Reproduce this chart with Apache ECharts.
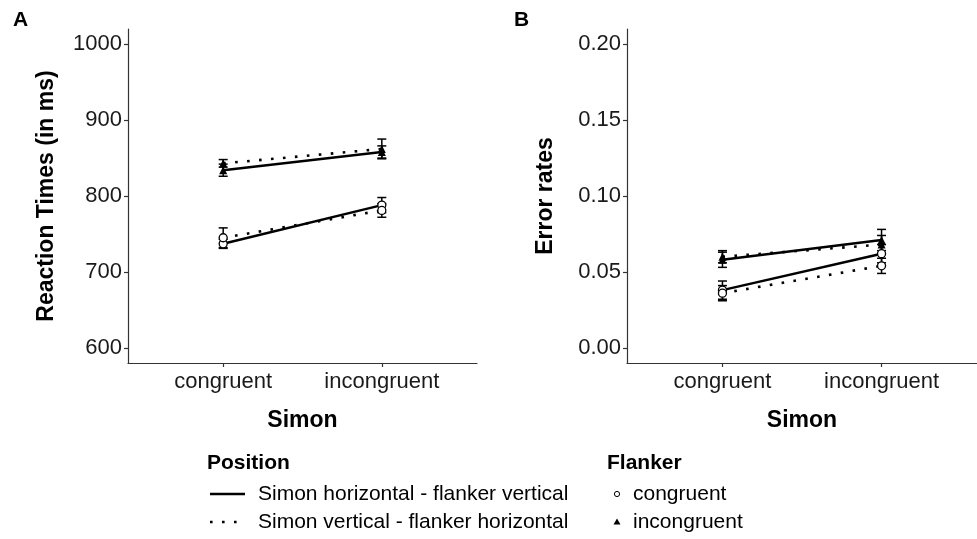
<!DOCTYPE html>
<html>
<head>
<meta charset="utf-8">
<script src="https://cdn.jsdelivr.net/npm/echarts@6/dist/echarts.min.js"></script>
<style>
  html, body { margin: 0; padding: 0; background: #fff; }
  #chart { width: 977px; height: 539px; }
</style>
</head>
<body>
<div id="chart"></div>
<script>
// Simon levels on x (positions 1 and 2)
const simonLevels = ['congruent', 'incongruent']
const simonPos = [1, 2]

// Reaction times (ms): means and SE per Simon level
const rtHorizCong = [737, 788]
const rtHorizCongSe = [6, 10]
const rtVertCong = [745, 781]
const rtVertCongSe = [13, 9]
const rtHorizIncong = [834, 858]
const rtHorizIncongSe = [8, 8]
const rtVertIncong = [843, 862]
const rtVertIncongSe = [5, 13]

// Error rates: means and SE per Simon level
const erHorizCong = [0.038, 0.062]
const erHorizCongSe = [0.006, 0.006]
const erVertCong = [0.036, 0.054]
const erVertCongSe = [0.005, 0.005]
const erHorizIncong = [0.058, 0.071]
const erHorizIncongSe = [0.005, 0.007]
const erVertIncong = [0.060, 0.068]
const erVertIncongSe = [0.004, 0.006]

// tick labels
const rtTicks = [600, 700, 800, 900, 1000]
const erTicks = [0, 0.05, 0.10, 0.15, 0.20]

const positionNames = ['Simon horizontal - flanker vertical', 'Simon vertical - flanker horizontal']
const flankerNames = ['congruent', 'incongruent']

const FONT = 'Liberation Sans'

const chart = echarts.init(document.getElementById('chart'))

const pts = (vals) => vals.map((v, i) => [simonPos[i], v])
const bars = (vals, se) => vals.map((v, i) => [simonPos[i], v - se[i], v + se[i]])

const solidLine = { color: '#000', width: 2.5, type: 'solid' }
const dotLine = { color: '#000', width: 2.6, type: [2.6, 9.4], cap: 'butt' }
const circleStyle = { color: '#fff', borderColor: '#000', borderWidth: 1.3 }
const triStyle = { color: '#000' }

const errorBars = (idx, list) => ({
  type: 'custom',
  xAxisIndex: idx,
  yAxisIndex: idx,
  silent: true,
  z: 3,
  data: list,
  renderItem: (params, api) => {
    const lo = api.coord([api.value(0), api.value(1)])
    const hi = api.coord([api.value(0), api.value(2)])
    const w = 4.5
    const style = { stroke: '#000', lineWidth: 1.5 }
    return {
      type: 'group',
      children: [
        { type: 'line', shape: { x1: lo[0], y1: lo[1], x2: hi[0], y2: hi[1] }, style },
        { type: 'line', shape: { x1: lo[0] - w, y1: lo[1], x2: lo[0] + w, y2: lo[1] }, style },
        { type: 'line', shape: { x1: hi[0] - w, y1: hi[1], x2: hi[0] + w, y2: hi[1] }, style }
      ]
    }
  }
})

const lineSeries = (idx, name, vals, dotted, tri) => ({
  type: 'line',
  name: name,
  xAxisIndex: idx,
  yAxisIndex: idx,
  data: pts(vals),
  symbol: tri ? 'triangle' : 'circle',
  symbolSize: 8,
  lineStyle: dotted ? dotLine : solidLine,
  itemStyle: tri ? triStyle : circleStyle,
  z: 4
})

const xAxisFor = (idx) => ({
  type: 'value',
  gridIndex: idx,
  min: 0.4,
  max: 2.6,
  name: 'Simon',
  nameLocation: 'middle',
  nameGap: 46,
  nameTextStyle: { fontFamily: FONT, fontSize: 23, fontWeight: 'bold', color: '#000' },
  axisLine: { onZero: false, lineStyle: { color: '#333', width: 1.2 } },
  axisTick: { customValues: simonPos, length: 4, lineStyle: { color: '#333', width: 1.2 } },
  axisLabel: {
    customValues: simonPos,
    margin: 8,
    fontFamily: FONT,
    fontSize: 22,
    color: '#1a1a1a',
    formatter: (v) => simonLevels[Math.round(v) - 1]
  },
  splitLine: { show: false }
})

const yAxisFor = (idx, name, min, max, ticks, fmt) => ({
  type: 'value',
  gridIndex: idx,
  min: min,
  max: max,
  name: name,
  nameLocation: 'middle',
  nameGap: 70,
  nameTextStyle: { fontFamily: FONT, fontSize: 23, fontWeight: 'bold', color: '#000' },
  axisLine: { show: true, onZero: false, lineStyle: { color: '#333', width: 1.2 } },
  axisTick: { show: true, customValues: ticks, length: 4, lineStyle: { color: '#333', width: 1.2 } },
  axisLabel: {
    customValues: ticks,
    margin: 6,
    fontFamily: FONT,
    fontSize: 22,
    color: '#1a1a1a',
    formatter: fmt
  },
  splitLine: { show: false }
})

// legend drawn by hand: title, key mark, label
const legendText = (x, y, text, bold) => ({
  type: 'text', x: x, y: y,
  style: { text: text, font: (bold ? 'bold ' : '') + '21px ' + FONT, fill: '#000', verticalAlign: 'middle' }
})

const option = {
  backgroundColor: '#fff',
  animation: false,
  grid: [
    { left: 128, top: 29, width: 349, height: 334 },
    { left: 627, top: 29, width: 350, height: 334 }
  ],
  xAxis: [xAxisFor(0), xAxisFor(1)],
  yAxis: [
    yAxisFor(0, 'Reaction Times (in ms)', 580, 1020, rtTicks, (v) => String(v)),
    yAxisFor(1, 'Error rates', -0.01, 0.21, erTicks, (v) => v.toFixed(2))
  ],
  graphic: [
    { type: 'text', x: 13, y: 20, style: { text: 'A', font: 'bold 21px ' + FONT, fill: '#000', verticalAlign: 'middle' } },
    { type: 'text', x: 514, y: 20, style: { text: 'B', font: 'bold 21px ' + FONT, fill: '#000', verticalAlign: 'middle' } },

    legendText(207, 463, 'Position', true),
    { type: 'line', shape: { x1: 210, y1: 494, x2: 245, y2: 494 }, style: { stroke: '#000', lineWidth: 2.5 } },
    legendText(258, 494, positionNames[0], false),
    { type: 'line', shape: { x1: 210, y1: 522, x2: 245, y2: 522 }, style: { stroke: '#000', lineWidth: 2.6, lineDash: [2.6, 9.4] } },
    legendText(258, 522, positionNames[1], false),

    legendText(607, 463, 'Flanker', true),
    { type: 'circle', shape: { cx: 617, cy: 494, r: 2.6 }, style: { fill: '#fff', stroke: '#000', lineWidth: 1 } },
    legendText(633, 494, flankerNames[0], false),
    { type: 'polygon', shape: { points: [[617, 518.5], [620.5, 524.5], [613.5, 524.5]] }, style: { fill: '#000' } },
    legendText(633, 522, flankerNames[1], false)
  ],
  series: [
    errorBars(0, bars(rtHorizCong, rtHorizCongSe)),
    errorBars(0, bars(rtVertCong, rtVertCongSe)),
    errorBars(0, bars(rtHorizIncong, rtHorizIncongSe)),
    errorBars(0, bars(rtVertIncong, rtVertIncongSe)),
    lineSeries(0, 'rt-h-c', rtHorizCong, false, false),
    lineSeries(0, 'rt-v-c', rtVertCong, true, false),
    lineSeries(0, 'rt-h-i', rtHorizIncong, false, true),
    lineSeries(0, 'rt-v-i', rtVertIncong, true, true),

    errorBars(1, bars(erHorizCong, erHorizCongSe)),
    errorBars(1, bars(erVertCong, erVertCongSe)),
    errorBars(1, bars(erHorizIncong, erHorizIncongSe)),
    errorBars(1, bars(erVertIncong, erVertIncongSe)),
    lineSeries(1, 'er-h-c', erHorizCong, false, false),
    lineSeries(1, 'er-v-c', erVertCong, true, false),
    lineSeries(1, 'er-h-i', erHorizIncong, false, true),
    lineSeries(1, 'er-v-i', erVertIncong, true, true)
  ]
}

chart.setOption(option)
</script>
</body>
</html>
